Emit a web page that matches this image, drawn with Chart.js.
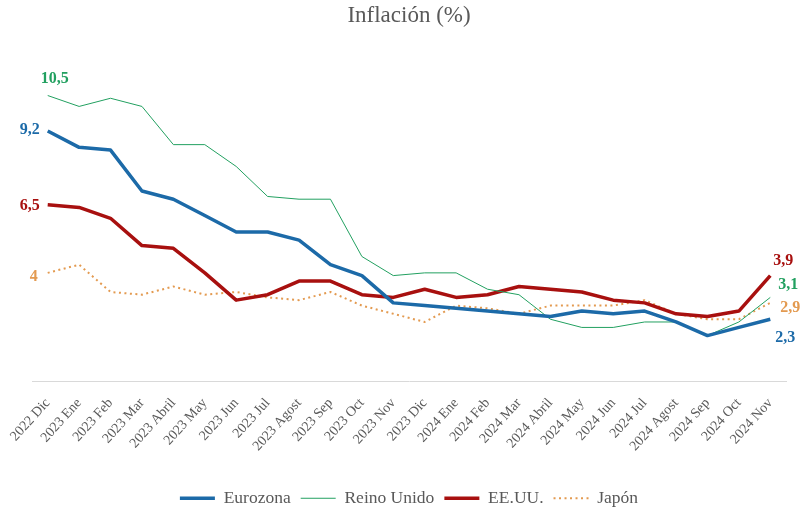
<!DOCTYPE html>
<html lang="es">
<head>
<meta charset="UTF-8">
<title>Inflación (%)</title>
<script src="https://cdn.jsdelivr.net/npm/chart.js"></script>
<style>
    html, body { margin: 0; padding: 0; background: #fff; }
    #wrap { width: 805px; height: 511px; }
</style>
</head>
<body>
<div id="wrap"><canvas id="inflChart" width="805" height="511"></canvas></div>
<script>
// Meses del eje X
const meses = ['2022 Dic', '2023 Ene', '2023 Feb', '2023 Mar', '2023 Abril', '2023 May', '2023 Jun',
    '2023 Jul', '2023 Agost', '2023 Sep', '2023 Oct', '2023 Nov', '2023 Dic', '2024 Ene', '2024 Feb',
    '2024 Mar', '2024 Abril', '2024 May', '2024 Jun', '2024 Jul', '2024 Agost', '2024 Sep', '2024 Oct', '2024 Nov'];

// Inflación interanual (%)
const eurozona   = [9.2, 8.6, 8.5, 7.0, 6.7, 6.1, 5.5, 5.5, 5.2, 4.3, 3.9, 2.9, 2.8, 2.7, 2.6, 2.5, 2.4, 2.6, 2.5, 2.6, 2.2, 1.7, 2.0, 2.3];
const reinoUnido = [10.5, 10.1, 10.4, 10.1, 8.7, 8.7, 7.9, 6.8, 6.7, 6.7, 4.6, 3.9, 4.0, 4.0, 3.4, 3.2, 2.3, 2.0, 2.0, 2.2, 2.2, 1.7, 2.2, 3.1];
const eeuu       = [6.5, 6.4, 6.0, 5.0, 4.9, 4.0, 3.0, 3.2, 3.7, 3.7, 3.2, 3.1, 3.4, 3.1, 3.2, 3.5, 3.4, 3.3, 3.0, 2.9, 2.5, 2.4, 2.6, 3.9];
const japon      = [4.0, 4.3, 3.3, 3.2, 3.5, 3.2, 3.3, 3.1, 3.0, 3.3, 2.8, 2.5, 2.2, 2.8, 2.7, 2.5, 2.8, 2.8, 2.8, 3.0, 2.5, 2.3, 2.3, 2.9];

const GRIS = '#595959';
const SERIF = '"Liberation Serif", "DejaVu Serif", serif';

function fmt(v) {
    return Number.isInteger(v) ? String(v) : v.toFixed(1).replace('.', ',');
}

// Etiquetas al inicio y al final de cada serie
const etiquetasPlugin = {
    id: 'etiquetas',
    afterDatasetsDraw(chart) {
        const ctx = chart.ctx;
        ctx.save();
        ctx.font = 'bold 16px ' + SERIF;
        ctx.textBaseline = 'middle';
        chart.data.datasets.forEach((ds, i) => {
            const meta = chart.getDatasetMeta(i);
            const first = meta.data[0];
            const last = meta.data[meta.data.length - 1];
            const o = ds.etiqueta;
            ctx.fillStyle = ds.borderColor;
            ctx.textAlign = o.startAlign;
            ctx.fillText(fmt(ds.data[0]), first.x + o.start[0], first.y + o.start[1]);
            ctx.textAlign = 'center';
            ctx.fillText(fmt(ds.data[ds.data.length - 1]), last.x + o.end[0], last.y + o.end[1]);
        });
        ctx.restore();
    }
};

new Chart(document.getElementById('inflChart').getContext('2d'), {
    type: 'line',
    data: {
        labels: meses,
        datasets: [
            {
                label: 'Eurozona', data: eurozona, borderColor: '#1c6aa8', borderWidth: 3.5,
                etiqueta: { start: [-8, -1], startAlign: 'right', end: [15, 19] }
            },
            {
                label: 'Reino Unido', data: reinoUnido, borderColor: '#22a060', borderWidth: 1,
                etiqueta: { start: [7, -17], startAlign: 'center', end: [18, -13] }
            },
            {
                label: 'EE.UU.', data: eeuu, borderColor: '#a8100f', borderWidth: 3.5,
                etiqueta: { start: [-8, 1], startAlign: 'right', end: [13, -15] }
            },
            {
                label: 'Japón', data: japon, borderColor: '#e39a50', borderWidth: 2,
                borderDash: [2, 3.5],
                etiqueta: { start: [-10, 4], startAlign: 'right', end: [20, 5] }
            }
        ]
    },
    options: {
        responsive: false,
        animation: false,
        devicePixelRatio: 1,
        elements: {
            point: { radius: 0, hoverRadius: 0 },
            line: { tension: 0, fill: false, borderJoinStyle: 'round' }
        },
        layout: { padding: { left: 32, right: 19, top: 2, bottom: -6 } },
        scales: {
            x: {
                offset: true,
                grid: { display: false },
                border: { display: true, color: '#d9d9d9', width: 1 },
                ticks: {
                    color: GRIS,
                    font: { family: SERIF, size: 14 },
                    minRotation: 48, maxRotation: 48,
                    autoSkip: false, padding: 5
                },
                // espacio extra entre las etiquetas y la leyenda
                afterFit(scale) { scale.height += 20; }
            },
            y: {
                display: false,
                min: 0, max: 12
            }
        },
        plugins: {
            title: {
                display: true,
                text: 'Inflación (%)',
                color: GRIS,
                font: { family: SERIF, size: 23, weight: 'normal' },
                padding: { top: 0, bottom: 25 }
            },
            legend: {
                position: 'bottom',
                labels: {
                    color: GRIS,
                    font: { family: SERIF, size: 17.5 },
                    usePointStyle: true,
                    pointStyle: 'line',
                    pointStyleWidth: 35,
                    boxWidth: 35,
                    padding: 10,
                    generateLabels(chart) {
                        const items = Chart.defaults.plugins.legend.labels.generateLabels(chart);
                        items.forEach(it => {
                            const ds = chart.data.datasets[it.datasetIndex];
                            it.lineDash = ds.borderDash || [];
                            it.lineWidth = ds.borderWidth;
                        });
                        return items;
                    }
                }
            },
            tooltip: { enabled: false }
        }
    },
    plugins: [etiquetasPlugin]
});
</script>
</body>
</html>
